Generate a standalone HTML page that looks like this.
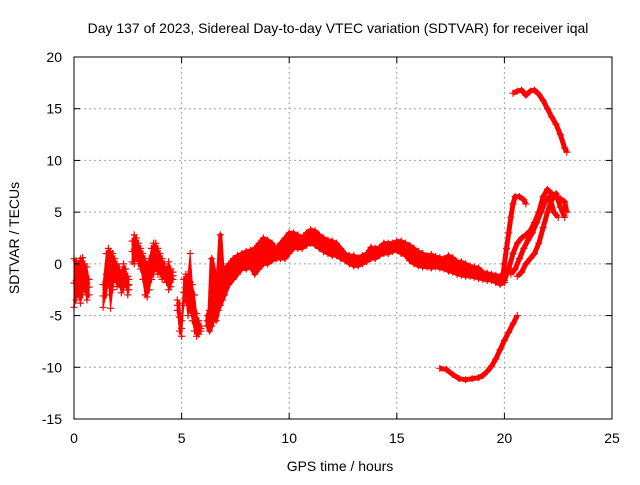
<!DOCTYPE html>
<html><head><meta charset="utf-8"><style>
body{margin:0;background:#fff}
svg text{font-family:"Liberation Sans",sans-serif;font-size:14px;fill:#000}
</style></head><body>
<svg id="chart" width="640" height="480" xmlns="http://www.w3.org/2000/svg">
<text x="338" y="33" text-anchor="middle">Day 137 of 2023, Sidereal Day-to-day VTEC variation (SDTVAR) for receiver iqal</text>
<text x="340" y="471" text-anchor="middle">GPS time / hours</text>
<text x="19" y="238" text-anchor="middle" transform="rotate(-90 19 238)">SDTVAR / TECUs</text>
<g id="grid"></g><g id="marks"></g><g id="axes"></g>
</svg>
<script>
const xTicks=[0,5,10,15,20,25];
const yTicks=[-15,-10,-5,0,5,10,15,20];
// band segments: times, lower and upper values
const bandT1=[0,0.1,0.2,0.3,0.4,0.5,0.6,0.7];
const bandLo1=[-4.2,-3.5,-3,-3.8,-3,-2.5,-3.5,-3];
const bandHi1=[0.5,0.3,0,0.5,0.6,0,-0.3,-1.5];
const bandT2=[1.35,1.5,1.6,1.7,1.8,1.9,2.0,2.1,2.2,2.3,2.4,2.5,2.55];
const bandLo2=[-4.2,-3,-1.8,-4.3,-2.5,-1.5,-2.2,-2,-2.8,-2.5,-2,-3,-2.5];
const bandHi2=[-2,1,1.5,1.2,1,0.5,0,-0.3,-0.8,0,-0.5,-1.2,-1.5];
const bandT3=[2.7,2.8,2.9,3.0,3.1,3.2,3.3,3.4,3.5,3.6,3.7,3.8,3.9,4.0,4.1,4.2,4.3,4.4,4.5,4.6];
const bandLo3=[0.2,0,0.5,0,-0.5,-1.5,-3,-3.2,-2.5,-1.5,-1,-0.5,-1,-1,-1.5,-1.5,-1.8,-2.5,-2.2,-1.5];
const bandHi3=[2.2,2.8,2.5,2,1.5,1,0.5,0,0.5,1.5,2,2,1.5,1,0.5,0,-0.5,0.2,-0.5,-0.8];
const bandT4=[4.8,4.9,5.0,5.1,5.2,5.3,5.4,5.5,5.6,5.7,5.8,5.9];
const bandLo4=[-4.5,-6.5,-7,-4,-3.5,-5,-4.5,-5.5,-6.5,-7,-6.8,-6.5];
const bandHi4=[-3.5,-3.8,-5.5,-1.5,-1,-1,1,-2,-3,-4.8,-5.5,-6];
const bandT5=[6.2,6.3,6.4,6.5,6.6,6.7,6.8,6.9,7.0,7.2,7.4,7.6,7.8,8.0,8.2,8.4,8.6,8.8,9.0,9.2,9.4,9.6,9.8,10.0,10.2,10.4,10.6,10.8,11.0,11.2,11.4,11.6,11.8,12.0,12.2,12.4,12.6,12.8,13.0,13.2,13.4,13.6,13.8,14.0,14.2,14.4,14.6,14.8,15.0,15.2,15.4,15.6,15.8,16.0,16.2,16.4,16.6,16.8,17.0,17.2,17.4,17.6,17.8,18.0,18.2,18.4,18.6,18.8,19.0,19.2,19.4,19.6,19.8,20.0];
const bandLo5=[-6,-6.5,-6,-5,-5.5,-4.5,-4,-3.5,-3,-2,-1.5,-1,-0.5,-0.5,-0.3,-1,-0.5,0,0,0.3,0.5,0.5,0.5,1,1.5,1.5,1.5,1.8,2,1.8,1.5,1.2,1,0.8,0.8,0.5,0.3,0,-0.2,-0.2,0,0.2,0.5,0.5,0.8,1,1,1.2,1.3,1,0.8,0.3,0,-0.2,-0.3,-0.3,-0.4,-0.3,-0.4,-0.5,-0.7,-0.8,-1,-1.1,-1.2,-1.2,-1.3,-1.4,-1.5,-1.6,-1.6,-1.8,-2,-1.8];
const bandHi5=[-5,-4.5,0.5,-0.5,-2,-1,2.8,-0.5,-0.5,0,0.5,0.8,1,1.2,1.3,1.5,2,2.5,2.3,2,1.5,2,2.5,3,3,2.8,2.5,3,3.3,3.2,2.8,2.5,2.3,2.2,2,1.5,1,0.8,0.8,0.6,0.8,1,1.6,1.5,1.6,2,2,2,2.2,2.2,2,1.8,1.5,1.2,1,0.8,0.9,0.7,0.6,0.5,0.8,0.6,0.2,0.2,0,-0.2,-0.3,-0.4,-0.8,-0.9,-1,-1.1,-1.2,-0.8];
// line series
const topT=[20.4,20.6,20.8,21.0,21.2,21.4,21.6,21.8,22.0,22.2,22.4,22.6,22.8,22.9];
const topV=[16.5,16.7,16.8,16.3,16.7,16.8,16.4,15.8,15,14.2,13.5,12.5,11.2,10.8];
const lowT=[17.0,17.3,17.6,17.9,18.2,18.5,18.8,19.0,19.2,19.4,19.6,19.8,20.0,20.2,20.4,20.6];
const lowV=[-10.1,-10.2,-10.7,-11.1,-11.2,-11.1,-11,-10.8,-10.4,-9.9,-9.2,-8.3,-7.4,-6.6,-5.8,-5];
const c1T=[19.9,20.0,20.1,20.2,20.3,20.4,20.5,20.7,20.9,21.0];
const c1V=[-1.8,0,1.5,3,4.5,5.8,6.5,6.5,6.2,5.8];
const c2T=[20.0,20.2,20.4,20.6,20.8,21.0,21.2,21.4,21.6,21.8,22.0,22.2,22.4,22.6,22.8,22.9];
const c2V=[-1.6,-0.5,1.0,2.0,2.5,2.8,3.2,4,5,6.5,7.2,6.8,6.5,6.3,6.0,5];
const c3T=[20.3,20.5,20.7,20.9,21.1,21.3,21.5,21.7,21.9,22.1,22.3,22.5];
const c3V=[-1,-0.5,0.5,1.5,2.3,3.0,4,5,6,6.5,5.0,4.5];
const c4T=[20.6,20.8,21.0,21.2,21.4,21.6,21.8,22.0,22.2,22.4,22.6,22.8];
const c4V=[-1.2,-0.8,0,0.5,1,2,3.5,5,6.2,6.8,5.5,4.5];

const X0=74,X1=612,Y0=419,Y1=57,xMin=0,xMax=25,yMin=-15,yMax=20;
const sx=t=>X0+(t-xMin)/(xMax-xMin)*(X1-X0);
const sy=v=>Y0-(v-yMin)/(yMax-yMin)*(Y0-Y1);
const NS='http://www.w3.org/2000/svg';
function mk(tag,parent,attrs){const e=document.createElementNS(NS,tag);for(const k in attrs)e.setAttribute(k,attrs[k]);parent.appendChild(e);return e;}
const grid=document.getElementById('grid'),marks=document.getElementById('marks'),axes=document.getElementById('axes');
xTicks.forEach(t=>{
  if(t>xMin&&t<xMax){const g=mk('line',grid,{x1:sx(t),x2:sx(t),y1:Y1,y2:Y0,stroke:'#a0a0a0','stroke-dasharray':'2,3'});
  
  }
  const tk=mk('text',axes,{x:sx(t),y:Y0+24,'text-anchor':'middle'});tk.textContent=t;
  
  
  mk('line',axes,{x1:sx(t),x2:sx(t),y1:Y0,y2:Y0-6,stroke:'#000'});
  mk('line',axes,{x1:sx(t),x2:sx(t),y1:Y1,y2:Y1+6,stroke:'#000'});
});
yTicks.forEach(v=>{
  if(v>yMin&&v<yMax){const g=mk('line',grid,{x1:X0,x2:X1,y1:sy(v),y2:sy(v),stroke:'#a0a0a0','stroke-dasharray':'2,3'});
  
  }
  const tk=mk('text',axes,{x:X0-12,y:sy(v)+5,'text-anchor':'end'});tk.textContent=v;
  
  
  mk('line',axes,{x1:X0,x2:X0+6,y1:sy(v),y2:sy(v),stroke:'#000'});
  mk('line',axes,{x1:X1,x2:X1-6,y1:sy(v),y2:sy(v),stroke:'#000'});
});
const fr=mk('rect',axes,{x:X0,y:Y1,width:X1-X0,height:Y0-Y1,fill:'none',stroke:'#000'});


function plus(x,y){mk('path',marks,{d:`M${x-3.5},${y}h7M${x},${y-3.5}v7`,stroke:'#f00','stroke-width':1.2});}
function band(T,L,H,sw){
  const pts=T.map((t,i)=>sx(t)+','+sy(H[i])).concat(T.map((t,i)=>sx(t)+','+sy(L[i])).reverse());
  const p=mk('polygon',marks,{points:pts.join(' '),fill:'#f00',stroke:'#f00','stroke-width':sw,'stroke-linejoin':'round'});
  
  
  T.forEach((t,i)=>{plus(sx(t),sy(L[i]));plus(sx(t),sy(H[i]));plus(sx(t),sy((L[i]+H[i])/2));});
}
function line(T,V){
  const p=mk('polyline',marks,{points:T.map((t,i)=>sx(t)+','+sy(V[i])).join(' '),fill:'none',stroke:'#f00','stroke-width':5,'stroke-linejoin':'round'});
  
  
  T.forEach((t,i)=>plus(sx(t),sy(V[i])));
}
band(bandT1,bandLo1,bandHi1,1);band(bandT2,bandLo2,bandHi2,1);band(bandT3,bandLo3,bandHi3,1);
band(bandT4,bandLo4,bandHi4,1);band(bandT5,bandLo5,bandHi5,4);
line(topT,topV);line(lowT,lowV);line(c1T,c1V);line(c2T,c2V);line(c3T,c3V);line(c4T,c4V);
</script>
</body></html>
